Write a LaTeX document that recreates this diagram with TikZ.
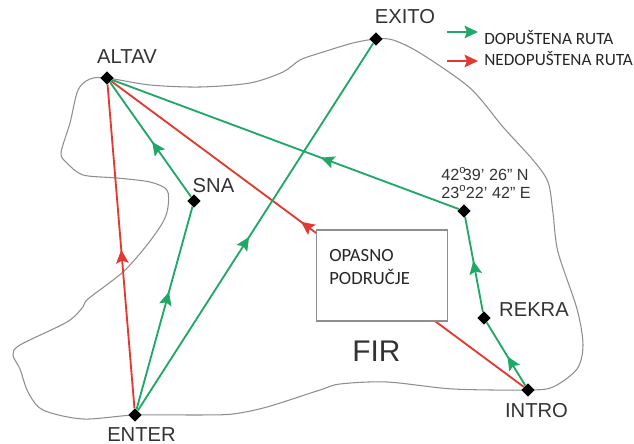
\documentclass[tikz,border=0pt]{standalone}
\usepackage{fontspec}
\usepackage{xcolor}
\setmainfont{Liberation Sans}
\newfontfamily\legfont{Carlito}
\usetikzlibrary{shapes.geometric,arrows.meta,decorations.markings}
\definecolor{dopgreen}{HTML}{1FA866}
\definecolor{nedred}{HTML}{E23A30}
\definecolor{firgray}{HTML}{8E8E8E}
\definecolor{labgray}{HTML}{333333}
\tikzset{pt/.style={diamond,fill=black,inner sep=0pt,minimum size=0.27cm}}
\tikzset{lab/.style={text=labgray,font=\fontsize{11.5}{13}\selectfont,inner sep=0pt}}
\tikzset{leg/.style={text=black!85,font=\legfont\fontsize{9.8}{12}\selectfont,inner sep=0pt,anchor=west}}
\tikzset{midtip/.style={postaction=decorate,decoration={markings,mark=at position #1 with {\arrow{Stealth[length=0.27cm,width=0.25cm,inset=0.05cm]}}}}}
\tikzset{dop/.style={draw=dopgreen,color=dopgreen,line width=1.05pt,midtip=#1}}
\tikzset{ned/.style={draw=nedred,color=nedred,line width=1.05pt,midtip=#1}}

\begin{document}
\begin{tikzpicture}[x=0.2mm,y=-0.2mm]
        \useasboundingbox (0,0) rectangle (634,444);

        \draw[firgray,line width=0.6pt] plot[smooth cycle,tension=0.5] coordinates {
            (107,78) (150,85) (200,87) (250,83) (283,72) (300,60) (320,53) (353,43) (376,39)
            (393,40) (420,53) (470,88) (503,127) (533,160) (548,182) (553,213) (558,252)
            (577,309) (583,345) (577,369) (553,387) (528,390) (453,389) (387,382) (340,384)
            (320,390) (267,407) (233,414) (200,415) (135,415) (83,419) (43,410) (28,392)
            (20,369) (13,355) (20,345) (67,322) (83,307) (88,299) (123,272) (147,245)
            (163,222) (168,207) (167,190) (150,182) (117,178) (83,175) (67,163) (61,153)
            (70,123) (78,90) (90,79)};

        \node[pt] (altav) at (107,78) {};
        \node[pt] (sna) at (194,201) {};
        \node[pt] (exito) at (376,39) {};
        \node[pt] (koord) at (464,211) {};
        \node[pt] (rekra) at (484,318) {};
        \node[pt] (intro) at (528,390) {};
        \node[pt] (enter) at (135,415) {};

        \node[lab] at (127,57) {ALTAV};
        \node[lab] at (213.5,186) {SNA};
        \node[lab] at (405,17) {EXITO};
        \node[lab] at (534,310) {REKRA};
        \node[lab] at (536.5,411) {INTRO};
        \node[lab] at (141.5,435) {ENTER};
        \node[lab,font=\fontsize{9.2}{10.3}\selectfont,align=left,anchor=west] at (441,183) {42$^{\mathrm{o}}$\kern-2pt39' 26" N\\23$^{\mathrm{o}}$\kern-0.3pt 22' 42" E};
        \node[lab,font=\fontsize{17}{19}\selectfont] at (376.5,351) {FIR};

        \draw [ned=0.49] (enter) to (altav);
        \draw [ned=0.54] (intro) to (altav);
        \draw [dop=0.58] (enter) to (sna);
        \draw [dop=0.48] (sna) to (altav);
        \draw [dop=0.473] (enter) to (exito);
        \draw [dop=0.46] (intro) to (rekra);
        \draw [dop=0.54] (rekra) to (koord);
        \draw [dop=0.398] (koord) to (altav);

        \node[draw=firgray,fill=white,line width=0.6pt,minimum width=2.62cm,minimum height=1.82cm,inner sep=0pt] (zona) at (382,275.5) {};
        \node[leg,align=left,font=\legfont\fontsize{10.6}{13.6}\selectfont] at (329,267) {OPASNO\\PODRUČJE};

        \node[leg] (legdop) at (484,38) {DOPUŠTENA RUTA};
        \node[leg] (legned) at (484,59) {NEDOPUŠTENA RUTA};
        \coordinate (d0) at (447,32);
        \coordinate (d1) at (478,32);
        \coordinate (n0) at (447,61);
        \coordinate (n1) at (478,61);
        \draw [-{Stealth[length=0.27cm,width=0.25cm,inset=0.05cm]},dopgreen,line width=1.05pt] (d0) to (d1);
        \draw [-{Stealth[length=0.27cm,width=0.25cm,inset=0.05cm]},nedred,line width=1.05pt] (n0) to (n1);

    \end{tikzpicture}
\end{document}
